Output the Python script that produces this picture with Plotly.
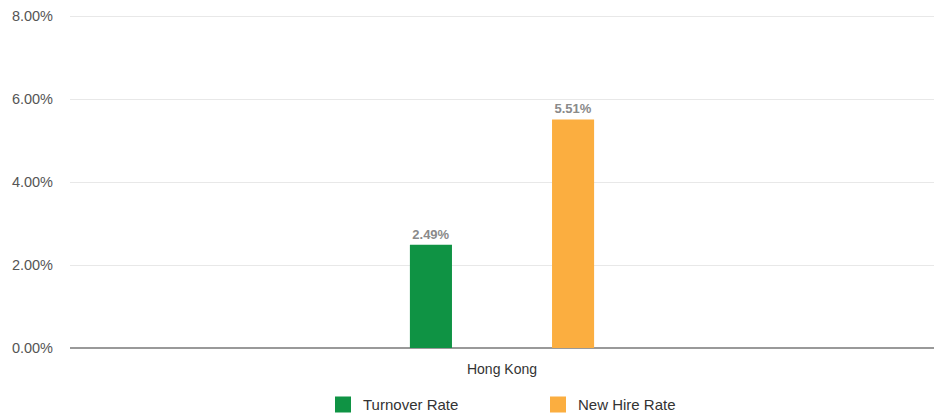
import plotly.graph_objects as go

categories = ["Hong Kong"]
turnover_rate = [2.49]
new_hire_rate = [5.51]
series_names = ["Turnover Rate", "New Hire Rate"]
series_colors = ["#0f9344", "#fbae40"]
y_ticks = [0, 2, 4, 6, 8]

fig = go.Figure()
for name, vals, col in zip(series_names, [turnover_rate, new_hire_rate], series_colors):
    fig.add_trace(go.Bar(
        x=categories, y=vals, name=name, marker=dict(color=col, line=dict(width=0)),
        text=[f"{v:.2f}%" for v in vals], textposition="outside",
        textfont=dict(family="Arial", size=13, color="#8a8a8a", weight="bold"),
        cliponaxis=False, showlegend=False,
    ))
# legend entries with larger square swatches
for name, col in zip(series_names, series_colors):
    fig.add_trace(go.Scatter(
        x=[None], y=[None], mode="markers", name=name,
        marker=dict(symbol="square", size=16, color=col), showlegend=True,
    ))

fig.update_layout(
    width=934, height=417,
    margin=dict(l=70, r=0, t=14, b=69, autoexpand=False),
    paper_bgcolor="white", plot_bgcolor="white",
    barmode="group", bargap=0.671, bargroupgap=0.704,
    font=dict(family="Arial", size=14, color="#555555"),
    showlegend=True,
    legend=dict(orientation="h", x=(335 - 70 - 12) / 864, xanchor="left", y=-0.17, yanchor="middle",
                font=dict(size=15, color="#333333"), entrywidth=170, itemsizing="trace"),
    xaxis=dict(showgrid=False, tickfont=dict(color="#333333", size=14), ticks="",
               showline=False, zeroline=False, ticklabelstandoff=11, automargin=False),
    yaxis=dict(range=[0, 8.05], tickvals=y_ticks, ticktext=[f"{t:.2f}%" for t in y_ticks],
               showgrid=True, gridcolor="#e8e8e8", gridwidth=1,
               zeroline=True, zerolinecolor="#999999", zerolinewidth=2,
               tickfont=dict(color="#555555", size=14.5), ticklabelstandoff=16,
               automargin=False),
)
fig.write_html("out.html", post_script="document.body.style.margin='0';",
               config={"displayModeBar": False})
